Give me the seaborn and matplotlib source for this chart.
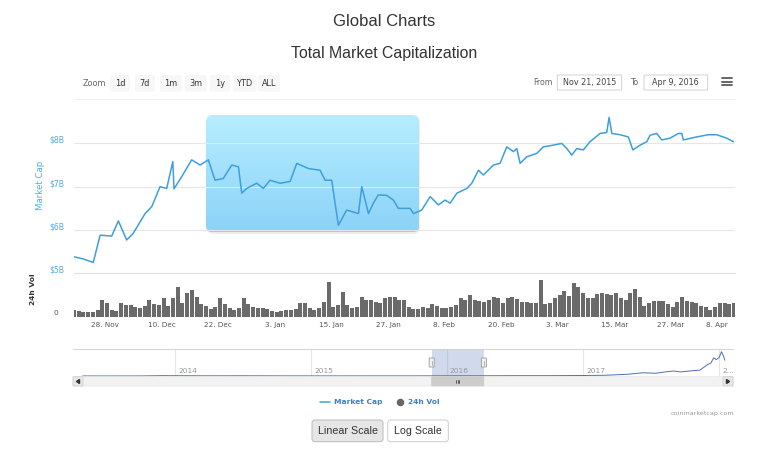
import numpy as np
import pandas as pd
import matplotlib
matplotlib.use("Agg")
import matplotlib.pyplot as plt
import matplotlib.dates as mdates
import matplotlib.transforms as mtransforms
from matplotlib.patches import FancyBboxPatch
from matplotlib.lines import Line2D
from matplotlib.colors import LinearSegmentedColormap
import seaborn as sns

# ---- data ----
cap_times = [
    "2015-11-21 12:00", "2015-11-23 10:00", "2015-11-25 12:00", "2015-11-26 23:00",
    "2015-11-29 10:00", "2015-11-30 20:00", "2015-12-02 14:00", "2015-12-03 23:00",
    "2015-12-06 12:00", "2015-12-07 22:00", "2015-12-09 16:00", "2015-12-11 02:00",
    "2015-12-12 09:00", "2015-12-12 15:00", "2015-12-14 06:00", "2015-12-16 09:00",
    "2015-12-18 04:00", "2015-12-19 22:00", "2015-12-21 08:00", "2015-12-23 02:00",
    "2015-12-24 21:00", "2015-12-26 07:00", "2015-12-27 00:00", "2015-12-28 01:00",
    "2015-12-30 04:00", "2015-12-31 14:00", "2016-01-02 00:00", "2016-01-04 03:00",
    "2016-01-06 06:00", "2016-01-07 16:00", "2016-01-10 03:00", "2016-01-12 15:00",
    "2016-01-13 16:00", "2016-01-15 02:00", "2016-01-15 19:00", "2016-01-16 12:00",
    "2016-01-18 06:00", "2016-01-20 18:00", "2016-01-21 11:00", "2016-01-22 21:00",
    "2016-01-23 22:00", "2016-01-24 23:00", "2016-01-26 18:00", "2016-01-28 04:00",
    "2016-01-29 05:00", "2016-01-31 17:00", "2016-02-01 10:00", "2016-02-03 04:00",
    "2016-02-04 23:00", "2016-02-06 17:00", "2016-02-08 03:00", "2016-02-09 05:00",
    "2016-02-10 15:00", "2016-02-12 18:00", "2016-02-13 19:00", "2016-02-15 05:00",
    "2016-02-16 06:00", "2016-02-18 09:00", "2016-02-19 19:00", "2016-02-21 05:00",
    "2016-02-22 15:00", "2016-02-23 08:00", "2016-02-24 01:00", "2016-02-25 11:00",
    "2016-02-27 14:00", "2016-02-28 23:00", "2016-03-02 02:00", "2016-03-03 21:00",
    "2016-03-04 23:00", "2016-03-06 00:00", "2016-03-07 01:00", "2016-03-08 11:00",
    "2016-03-09 21:00", "2016-03-12 00:00", "2016-03-13 10:00", "2016-03-13 22:00",
    "2016-03-14 12:00", "2016-03-16 06:00", "2016-03-18 00:00", "2016-03-18 23:00",
    "2016-03-20 12:00", "2016-03-21 22:00", "2016-03-22 15:00", "2016-03-24 01:00",
    "2016-03-25 02:00", "2016-03-26 20:00", "2016-03-28 15:00", "2016-03-29 08:00",
    "2016-03-29 16:00", "2016-04-01 12:00", "2016-04-03 23:00", "2016-04-05 18:00",
    "2016-04-07 21:00", "2016-04-09 07:00",
]
cap_values = [  # $B
    5.38, 5.33, 5.25, 5.88, 5.86, 6.21, 5.77, 5.92, 6.38, 6.54, 7.00, 6.96,
    7.58, 6.95, 7.23, 7.62, 7.50, 7.62, 7.15, 7.19, 7.50, 7.46, 6.85, 6.96,
    7.08, 6.96, 7.15, 7.08, 7.12, 7.54, 7.42, 7.38, 7.15, 7.15, 6.62, 6.11,
    6.46, 6.38, 7.00, 6.38, 6.62, 6.81, 6.80, 6.69, 6.50, 6.50, 6.38, 6.46,
    6.77, 6.58, 6.69, 6.62, 6.85, 6.96, 7.08, 7.38, 7.27, 7.50, 7.54, 7.92,
    7.81, 7.88, 7.54, 7.69, 7.77, 7.92, 7.96, 8.00, 7.88, 7.73, 7.88, 7.85,
    8.04, 8.23, 8.25, 8.60, 8.23, 8.20, 8.15, 7.85, 7.96, 8.04, 8.19, 8.23,
    8.08, 8.12, 8.23, 8.23, 8.08, 8.15, 8.20, 8.20, 8.12, 8.04,
]

vol_start = "2015-11-21"
vol_values = [  # $M per day
    80, 72, 60, 60, 60, 80, 200, 160, 80, 72,
    160, 140, 140, 120, 100, 128, 200, 152, 140, 220,
    128, 220, 360, 160, 280, 320, 232, 152, 128, 88,
    120, 220, 152, 100, 80, 100, 220, 152, 112, 100,
    100, 88, 72, 60, 72, 80, 80, 88, 168, 160,
    100, 80, 100, 180, 420, 112, 140, 300, 140, 100,
    120, 240, 200, 200, 180, 160, 220, 232, 232, 200,
    200, 120, 88, 88, 120, 108, 152, 128, 100, 100,
    120, 140, 220, 200, 260, 200, 188, 180, 200, 232,
    220, 160, 220, 232, 208, 180, 180, 168, 160, 440,
    152, 160, 220, 260, 312, 248, 400, 360, 288, 220,
    220, 272, 288, 272, 260, 280, 220, 200, 288, 328,
    240, 128, 160, 192, 188, 192, 152, 120, 180, 232,
    192, 180, 160, 132, 112, 80, 120, 168, 168, 152, 160,
]

nav_dates = [
    "2013-04-28", "2013-07-01", "2013-10-01", "2013-12-01", "2014-01-01", "2014-04-01",
    "2014-07-01", "2014-10-01", "2015-01-01", "2015-04-01", "2015-07-01", "2015-10-01",
    "2016-01-01", "2016-04-01", "2016-07-01", "2016-10-01", "2017-01-01", "2017-03-01",
    "2017-05-01", "2017-06-10", "2017-07-15", "2017-08-15", "2017-09-01", "2017-09-20",
    "2017-10-20", "2017-11-10", "2017-11-29", "2017-12-10", "2017-12-17", "2017-12-24",
    "2018-01-01", "2018-01-07", "2018-01-12", "2018-01-16",
]
nav_values = [  # $B
    1.5, 1.0, 2.0, 12, 10, 6, 8, 5, 4, 3.5, 4.5, 4.5,
    7, 8, 11, 11, 17, 25, 60, 110, 95, 150, 170, 140,
    180, 200, 375, 450, 620, 560, 640, 830, 700, 540,
]

y_ticks = [5, 6, 7, 8]
y_labels = ["$5B", "$6B", "$7B", "$8B"]
zoom_buttons = ["1d", "7d", "1m", "3m", "1y", "YTD", "ALL"]
year_labels = ["2014", "2015", "2016", "2017", "2..."]

cap = pd.DataFrame({"time": pd.to_datetime(cap_times), "cap": cap_values})
vol = pd.DataFrame({"day": pd.date_range(vol_start, periods=len(vol_values), freq="D"),
                    "vol": vol_values})
nav = pd.DataFrame({"time": pd.to_datetime(nav_dates), "cap": nav_values})

sns.set_theme(style="white")
plt.rcParams["font.family"] = ["DejaVu Sans"]

W, H = 768, 455
fig = plt.figure(figsize=(W / 100, H / 100), dpi=100)
fig.patch.set_facecolor("white")
# pixel coords, y down, like the screenshot
pix = mtransforms.Affine2D().scale(1 / W, -1 / H).translate(0, 1) + fig.transFigure


def px_axes(left, top, right, bottom):
    return fig.add_axes([left / W, 1 - bottom / H, (right - left) / W, (bottom - top) / H])


def ptext(x, y, s, **kw):
    kw.setdefault("va", "center")
    return fig.text(x, y, s, transform=pix, **kw)


def pbox(x, y, w, h, r=0, **kw):
    p = FancyBboxPatch((x, y), w, h, boxstyle=f"round,pad=0,rounding_size={r}",
                       transform=pix, **kw)
    fig.add_artist(p)
    return p


def pline(xs, ys, **kw):
    fig.add_artist(Line2D(xs, ys, transform=pix, **kw))


blue = "#3d9fdc"
lab_blue = "#55abdf"
x0, x1 = pd.Timestamp("2015-11-21 10:00"), pd.Timestamp("2016-04-09 15:00")

# ---- titles ----
ptext(384, 21, "Global Charts", ha="center", fontsize=12, color="#333333",
      family="Liberation Sans")
ptext(384, 53.5, "Total Market Capitalization", ha="center", fontsize=11.4,
      color="#333333", family="Liberation Sans")

# ---- range selector ----
ptext(94, 83.3, "Zoom", ha="center", fontsize=5.8, color="#666666")
btn_left = [110, 135, 160, 185, 210, 233, 258]
btn_right = [130, 155, 181.7, 206.7, 230, 256.7, 280]
for lab, l, r in zip(zoom_buttons, btn_left, btn_right):
    pbox(l, 75, r - l, 16.7, r=2, facecolor="#f7f7f7", edgecolor="none")
    ptext((l + r) / 2, 83.3, lab, ha="center", fontsize=5.9, color="#333333")

ptext(552.7, 82.5, "From", ha="right", fontsize=5.7, color="#666666")
pbox(557.3, 75, 64.4, 15, facecolor="white", edgecolor="#cccccc", linewidth=0.6)
ptext(589.5, 82.5, "Nov 21, 2015", ha="center", fontsize=5.8, color="#444444")
ptext(634, 82.5, "To", ha="center", fontsize=5.7, color="#666666")
pbox(644, 75, 63.7, 15, facecolor="white", edgecolor="#cccccc", linewidth=0.6)
ptext(675.8, 82.5, "Apr 9, 2016", ha="center", fontsize=5.8, color="#444444")
for yy in (78.3, 81.7, 85):
    pline([721.7, 731.7], [yy, yy], color="#666666", linewidth=1.4)
pline([74, 735], [98.5, 98.5], color="#f0f0f0", linewidth=0.8)

# ---- selection overlay (drag box) ----
sel_box = FancyBboxPatch((206, 115), 213.3, 117.3, boxstyle="round,pad=0,rounding_size=7",
                         transform=pix, facecolor="none", edgecolor="none")
pbox(206.5, 116.5, 213.3, 117.3, r=7, facecolor="black", edgecolor="none",
     alpha=0.08, zorder=-1)
ax_box = px_axes(206, 115, 419.3, 232.3)
ax_box.set_zorder(0)
ax_box.axis("off")
grad = np.linspace(0, 1, 200).reshape(-1, 1)
cmap = LinearSegmentedColormap.from_list("sel", ["#b6eeff", "#8cd2f8"])
im = ax_box.imshow(grad, cmap=cmap, aspect="auto", extent=[0, 1, 0, 1], origin="upper")
im.set_clip_path(sel_box)

# ---- market cap panel ----
ax = px_axes(74, 105, 735, 273.3)
ax.set_zorder(2)
ax.patch.set_alpha(0)
sns.lineplot(data=cap, x="time", y="cap", ax=ax, color=blue, linewidth=1.1)
ax.set_xlim(x0, x1)
ax.set_ylim(5.0, 8.887)
ax.set_yticks(y_ticks)
ax.set_yticklabels(y_labels)
ax.grid(axis="y", color="#e6e6e6", linewidth=0.8)
ax.grid(axis="x", visible=False)
for s in ax.spines.values():
    s.set_visible(False)
ax.tick_params(axis="y", length=0, pad=7, labelsize=5.6, labelcolor=lab_blue)
ax.tick_params(axis="x", bottom=False, labelbottom=False)
ax.set_xlabel("")
ax.set_ylabel("")
up = mtransforms.ScaledTranslation(0, 4 / 100, fig.dpi_scale_trans)
for t in ax.get_yticklabels():
    t.set_transform(t.get_transform() + up)
ptext(40.7, 185, "Market Cap", ha="center", rotation=90, fontsize=6.2, color=lab_blue)

# ---- volume panel ----
axv = px_axes(74, 273.3, 735, 316.7)
axv.bar(vol["day"], vol["vol"], width=0.85, align="edge", color="#6a6a6a", linewidth=0)
axv.set_xlim(x0, x1)
axv.set_ylim(0, 520)
for k, s in axv.spines.items():
    s.set_visible(k == "top")
axv.spines["top"].set_color("#e0e0e0")
axv.spines["top"].set_linewidth(0.8)
axv.set_yticks([0])
axv.set_yticklabels(["0"])
axv.tick_params(axis="y", length=0, pad=11, labelsize=5.4, labelcolor="#555555")
for t in axv.get_yticklabels():
    t.set_transform(t.get_transform() + up)
xt = pd.date_range("2015-11-28", periods=12, freq="12D")
axv.set_xticks(xt)
axv.set_xticklabels([f"{d.day}. {d.strftime('%b')}" for d in xt])
axv.tick_params(axis="x", length=0, pad=4, labelsize=5.2, labelcolor="#555555")
axv.get_xticklabels()[-1].set_horizontalalignment("right")
axv.grid(False)
ptext(33.3, 289, "24h Vol", ha="center", rotation=90, fontsize=5.4, color="#333333",
      fontweight="bold")

# ---- navigator ----
axn = px_axes(73, 349.3, 733, 376.7)
nav_x0, nav_x1 = pd.Timestamp("2013-04-02"), pd.Timestamp("2018-02-07")
years = pd.to_datetime(["2014-01-01", "2015-01-01", "2016-01-01", "2017-01-01", "2018-01-01"])
for yv in years:
    axn.axvline(yv, color="#e6e6e6", linewidth=0.8, zorder=0)
axn.axvspan(pd.Timestamp("2015-11-21"), pd.Timestamp("2016-04-09"),
            color="#6685c2", alpha=0.3, linewidth=0, zorder=1)
sns.lineplot(data=nav, x="time", y="cap", ax=axn, color="#4f6fb5", linewidth=0.7, zorder=2)
axn.set_xlim(nav_x0, nav_x1)
axn.set_ylim(-24, 913)
axn.set_xticks([])
axn.set_yticks([])
axn.set_xlabel("")
axn.set_ylabel("")
for k, s in axn.spines.items():
    s.set_visible(k == "top")
axn.spines["top"].set_color("#cccccc")
axn.spines["top"].set_linewidth(0.6)
lbl_tr = mtransforms.blended_transform_factory(axn.transData, pix)
shift = mtransforms.ScaledTranslation(3 / 100, 0, fig.dpi_scale_trans)
for yv, lab in zip(years, year_labels):
    fig.text(mdates.date2num(yv), 371, lab, transform=lbl_tr + shift, ha="left",
             va="center", fontsize=5.4, color="#999999")

# handles + scrollbar, located from the navigator's own scale
hx0 = axn.transData.transform((mdates.date2num(pd.Timestamp("2015-11-21")), 0))[0]
hx1 = axn.transData.transform((mdates.date2num(pd.Timestamp("2016-04-09")), 0))[0]
for hx in (hx0, hx1):
    pbox(hx - 2.5, 358, 5, 9, facecolor="#f2f2f2", edgecolor="#999999", linewidth=0.6)
    pline([hx, hx], [360.5, 364.5], color="#999999", linewidth=0.5)
pbox(73, 376.7, 660, 9.3, facecolor="#f2f2f2", edgecolor="#e6e6e6", linewidth=0.5)
pbox(hx0, 376.7, hx1 - hx0, 9.3, facecolor="#cccccc", edgecolor="#cccccc", linewidth=0.5)
mid = (hx0 + hx1) / 2
for dx in (-1.5, 0, 1.5):
    pline([mid + dx, mid + dx], [379.5, 383.2], color="#333333", linewidth=0.5)
pbox(73, 376.7, 10, 9.3, facecolor="#e6e6e6", edgecolor="#cccccc", linewidth=0.5)
pbox(723, 376.7, 10, 9.3, facecolor="#e6e6e6", edgecolor="#cccccc", linewidth=0.5)
fig.add_artist(plt.Polygon([[79.5, 379.5], [79.5, 383.5], [76.5, 381.5]], closed=True,
                           transform=pix, color="#333333"))
fig.add_artist(plt.Polygon([[726.5, 379.5], [726.5, 383.5], [729.5, 381.5]], closed=True,
                           transform=pix, color="#333333"))

# ---- legend & credits ----
pline([320, 330], [401.7, 401.7], color=blue, linewidth=1.1)
ptext(334, 401.7, "Market Cap", ha="left", fontsize=5.4, color="#3f7fc2", fontweight="bold")
pline([400], [401.7], marker="o", markersize=4.4, color="#666666", linestyle="none")
ptext(408.5, 401.7, "24h Vol", ha="left", fontsize=5.4, color="#3f7fc2", fontweight="bold")
ptext(734, 414, "coinmarketcap.com", ha="right", fontsize=4.6, color="#999999")

# ---- scale buttons ----
pbox(312, 420, 71, 21.7, r=3, facecolor="#e6e6e6", edgecolor="#bbbbbb", linewidth=0.7)
ptext(347.5, 431, "Linear Scale", ha="center", fontsize=7.7, color="#333333",
      family="Liberation Sans")
pbox(387.7, 420, 60.6, 21.7, r=3, facecolor="white", edgecolor="#cccccc", linewidth=0.7)
ptext(418, 431, "Log Scale", ha="center", fontsize=7.7, color="#333333",
      family="Liberation Sans")

fig.savefig("out.png", dpi=100)
